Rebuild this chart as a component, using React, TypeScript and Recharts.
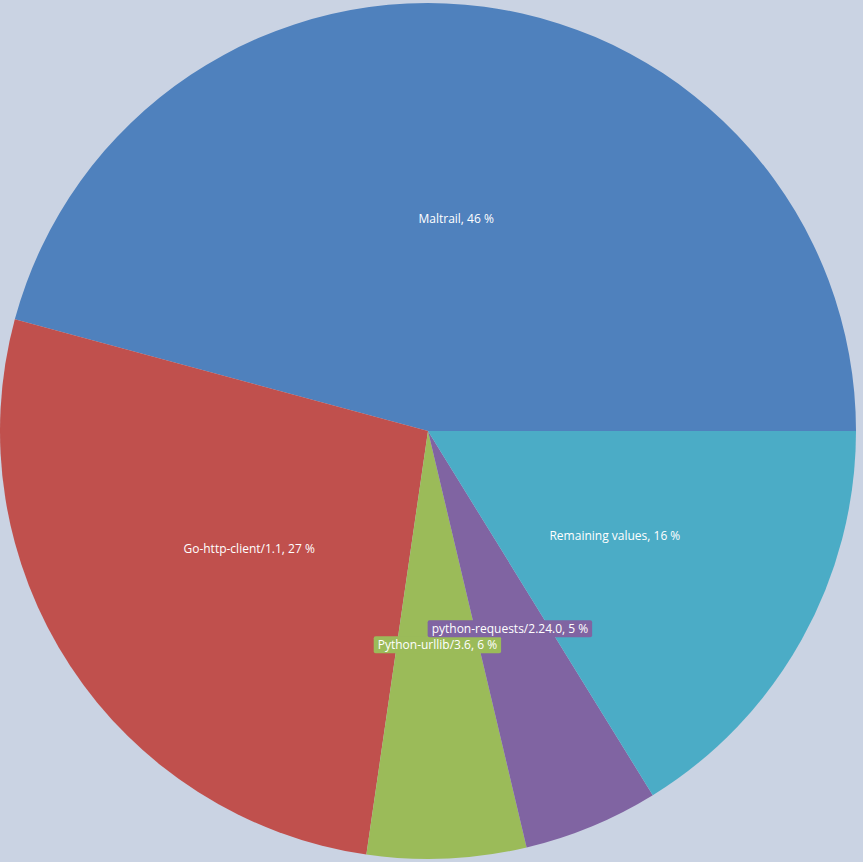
import React from 'react';
import { PieChart, Pie, Cell } from 'recharts';

const names = ['Maltrail', 'Go-http-client/1.1', 'Python-urllib/3.6', 'python-requests/2.24.0', 'Remaining values'];
// shares; labels show them rounded
const shares = [45.8, 26.9, 6.0, 5.1, 16.2];
const colors = ['#4f81bd', '#c0504d', '#9bbb59', '#8064a2', '#4bacc6'];
// small slices get a filled tag behind the label
const boxed = [false, false, true, true, false];

const data = names.map((name, i) => ({ name, value: shares[i] }));

const FONT = '12px "Open Sans"';
const RAD = Math.PI / 180;

let ctx: CanvasRenderingContext2D | null = null;
const measure = (t: string) => {
  if (!ctx) ctx = document.createElement('canvas').getContext('2d');
  if (!ctx) return t.length * 6.5;
  ctx.font = FONT;
  return ctx.measureText(t).width;
};

const renderLabel = (props: any) => {
  const { cx, cy, midAngle, outerRadius, index, name, value } = props;
  const r = outerRadius * 0.5;
  const x = cx + r * Math.cos(-midAngle * RAD);
  const y = cy + r * Math.sin(-midAngle * RAD);
  const text = `${name}, ${Math.round(value)} %`;
  const w = measure(text) + 8;
  return (
    <g>
      {boxed[index] && (
        <rect x={x - w / 2} y={y - 8.5} width={w} height={17} rx={2} fill={colors[index]} />
      )}
      <text
        x={x}
        y={y}
        fill="#ffffff"
        textAnchor="middle"
        dominantBaseline="central"
        style={{ font: FONT }}
      >
        {text}
      </text>
    </g>
  );
};

export default function App() {
  return (
    <div style={{ position: 'fixed', left: 0, top: 0, width: 863, height: 862, background: '#cad3e3' }}>
      <PieChart width={863} height={862} margin={{ top: 0, right: 0, bottom: 0, left: 0 }}>
        <Pie
          data={data}
          dataKey="value"
          nameKey="name"
          cx={428}
          cy={431}
          outerRadius={428}
          startAngle={0}
          endAngle={360}
          stroke="none"
          labelLine={false}
          label={renderLabel}
          isAnimationActive={false}
        >
          {data.map((d, i) => (
            <Cell key={d.name} fill={colors[i]} />
          ))}
        </Pie>
      </PieChart>
    </div>
  );
}
